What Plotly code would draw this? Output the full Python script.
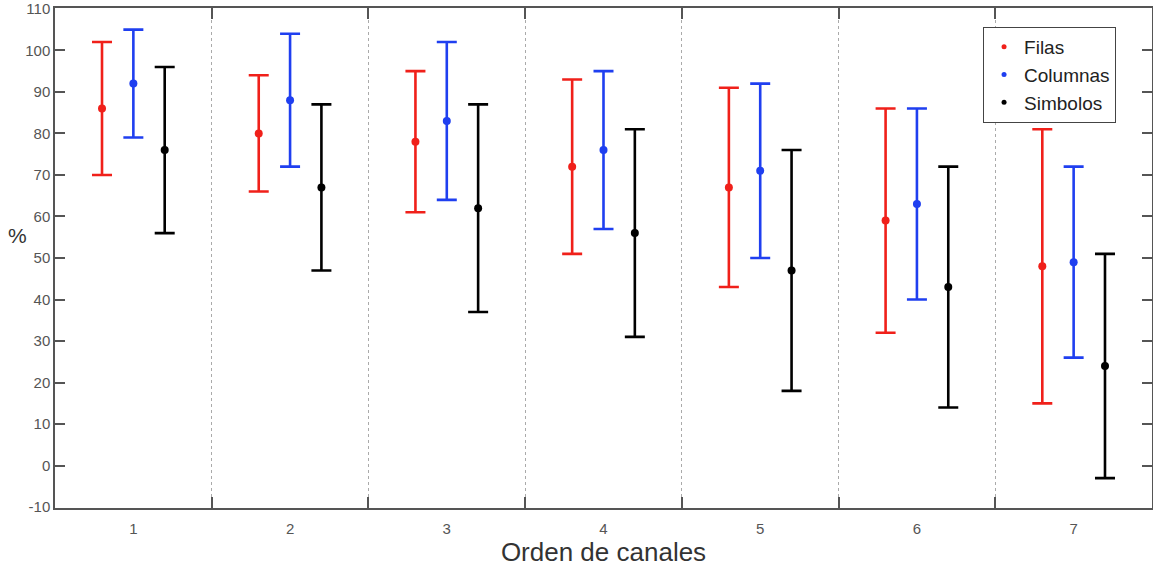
import plotly.graph_objects as go

# orden de canales
canales = [1, 2, 3, 4, 5, 6, 7]

filas_media = [86, 80, 78, 72, 67, 59, 48]
filas_err = [16, 14, 17, 21, 24, 27, 33]

columnas_media = [92, 88, 83, 76, 71, 63, 49]
columnas_err = [13, 16, 19, 19, 21, 23, 23]

simbolos_media = [76, 67, 62, 56, 47, 43, 24]
simbolos_err = [20, 20, 25, 25, 29, 29, 27]

y_ticks = list(range(-10, 111, 10))
y_ticktext = [str(v) for v in y_ticks]  # guion normal, como en el original

series = [
    ("Filas", filas_media, filas_err, "#f0201a", -0.2),
    ("Columnas", columnas_media, columnas_err, "#1f3ff0", 0.0),
    ("Simbolos", simbolos_media, simbolos_err, "#000000", 0.2),
]

font_fam = "Liberation Sans, Arial, sans-serif"
axis_color = "#555555"

fig = go.Figure()

for name, media, err, color, offset in series:
    fig.add_trace(go.Scatter(
        x=[c + offset for c in canales],
        y=media,
        mode="markers",
        name=name,
        showlegend=False,
        marker=dict(color=color, size=8),
        error_y=dict(type="data", array=err, symmetric=True,
                     color=color, thickness=2.6, width=10),
    ))

# entradas de leyenda con puntos pequenos
for name, media, err, color, offset in series:
    fig.add_trace(go.Scatter(
        x=[None], y=[None], mode="markers", name=name,
        marker=dict(color=color, size=5),
    ))

fig.update_layout(
    width=1153,
    height=567,
    margin=dict(l=55, r=1, t=8, b=59),
    plot_bgcolor="white",
    paper_bgcolor="white",
    showlegend=True,
    legend=dict(
        x=0.846, y=0.962, xanchor="left", yanchor="top",
        bordercolor="#444444", borderwidth=1, bgcolor="white",
        font=dict(family=font_fam, size=19, color="#222222"),
        itemsizing="trace",
        tracegroupgap=0,
    ),
    xaxis=dict(
        range=[0.5, 7.5],
        tickvals=canales,
        ticktext=[str(c) for c in canales],
        ticks="",
        ticklabelstandoff=6,
        showgrid=False,
        zeroline=False,
        showline=True, linecolor=axis_color, linewidth=1.5, mirror="ticks",
        tickfont=dict(family=font_fam, size=15, color="#555555"),
        minor=dict(
            tickvals=[1.5, 2.5, 3.5, 4.5, 5.5, 6.5],
            ticks="inside", ticklen=11, tickcolor=axis_color, tickwidth=1.5,
            showgrid=True, gridcolor="#aaaaaa", griddash="dot", gridwidth=1,
        ),
        title=dict(text="Orden de canales", standoff=3,
                   font=dict(family=font_fam, size=26, color="#333333")),
        automargin=False,
    ),
    yaxis=dict(
        range=[-10.2, 110.2],
        tickvals=y_ticks,
        ticktext=y_ticktext,
        ticks="inside", ticklen=10, tickcolor=axis_color, tickwidth=1.5,
        showgrid=False,
        zeroline=False,
        showline=True, linecolor=axis_color, linewidth=1.5, mirror="ticks",
        tickfont=dict(family=font_fam, size=15, color="#555555"),
        automargin=False,
    ),
)

fig.add_annotation(
    text="%", xref="paper", yref="paper", x=-0.034, y=0.545,
    showarrow=False, xanchor="center",
    font=dict(family=font_fam, size=21, color="#333333"),
)

fig.write_html(
    "out.html",
    config={"displayModeBar": False},
    post_script="document.body.style.margin='0';document.body.style.overflow='hidden';",
)
